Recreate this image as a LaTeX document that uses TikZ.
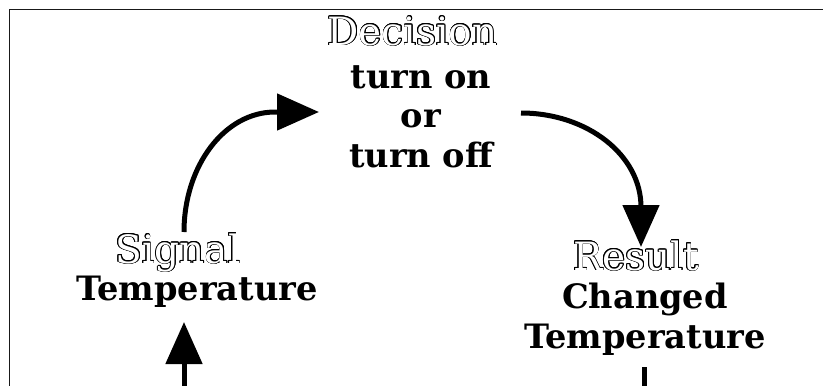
\documentclass[tikz,border=0pt]{standalone}
\usepackage{fontspec}
\setmainfont{DejaVu Serif}
\usetikzlibrary{arrows.meta}
\tikzset{
  boldtxt/.style={font=\bfseries\fontsize{33.6}{39.2}\selectfont, inner sep=0pt, anchor=base, align=center},
  outl/.style={font=\fontsize{39}{44}\selectfont, inner sep=0pt, anchor=base},
  conn/.style={line width=5pt, -{Triangle[length=42pt,width=36pt]}},
  plainline/.style={line width=5pt},
  frameline/.style={line width=1.5pt, draw=black!90},
}
\newcommand\outlinetext[3]{%
  \foreach \ang in {0,22.5,...,337.5}{\node[outl,text=black,shift={(\ang:0.75pt)}] at (#2) {#3};}
  \node[outl,text=white] (#1) at (#2) {#3};}
\begin{document}
\begin{tikzpicture}[x=1pt,y=-1pt]
\useasboundingbox (0,0) rectangle (823,386);
\clip (0,0) rectangle (823,386);
\draw[frameline] (9.5,420) -- (9.5,9.5) -- (860,9.5);

\outlinetext{decision}{412.5,45}{Decision}
\outlinetext{signal}{178,263}{Signal}
\outlinetext{result}{636,270}{Result}

% base anchor of a multi-line node is the baseline of its last line
\node[boldtxt] (choice) at (421,167) {turn on\\or\\turn off};
\node[boldtxt] (temp) at (197,300) {Temperature};
\node[boldtxt] (changed) at (645,348) {Changed\\Temperature};

\coordinate (s1) at (184,232);
\coordinate (s2) at (275,112);
\coordinate (s3) at (319,112);
\draw[conn] (s1) .. controls (184,165.7) and (224.7,112) .. (s2) -- (s3);

\coordinate (r1) at (521,113);
\coordinate (r2) at (641,207);
\coordinate (r3) at (641,247);
\draw[conn] (r1) .. controls (587.3,113) and (641,155.1) .. (r2) -- (r3);

\coordinate (b1) at (184,400);
\coordinate (b2) at (184,322);
\draw[conn] (b1) -- (b2);

\coordinate (c1) at (644,367);
\coordinate (c2) at (644,400);
\draw[plainline] (c1) -- (c2);
\end{tikzpicture}
\end{document}
